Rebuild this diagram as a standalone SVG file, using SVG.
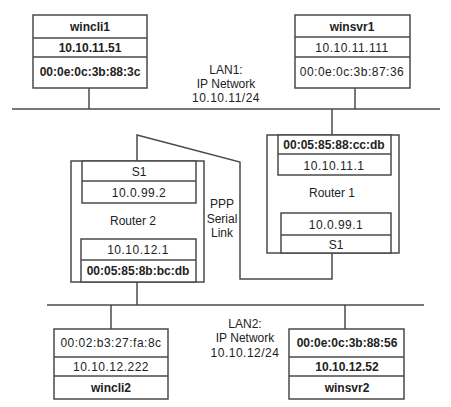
<svg xmlns="http://www.w3.org/2000/svg" width="451" height="407" viewBox="0 0 451 407">
<style>
.bx{fill:#fff;stroke:#4a4a4a;stroke-width:1.5}
.ln{fill:none;stroke:#4a4a4a;stroke-width:1.5}
text{font-family:"Liberation Sans",Arial,sans-serif;font-size:12px;fill:#222;text-anchor:middle}
.b{font-weight:bold}
.n{letter-spacing:0.5px}
</style>
<rect width="451" height="407" fill="#fff"/>
<g id="connectors">
<line class="ln" x1="12" y1="109" x2="440" y2="109"/>
<line class="ln" x1="47" y1="305" x2="424" y2="305"/>
<line class="ln" x1="89" y1="88" x2="89" y2="109"/>
<line class="ln" x1="355" y1="88" x2="355" y2="109"/>
<line class="ln" x1="332" y1="109" x2="332" y2="135"/>
<line class="ln" x1="137" y1="282" x2="137" y2="305"/>
<line class="ln" x1="111" y1="305" x2="111" y2="329"/>
<line class="ln" x1="345" y1="305" x2="345" y2="329"/>
<polyline class="ln" points="137,161 137,135 240,162 240,279 332,279 332,253"/>
</g>
<g id="lan1">
<text x="226" y="74">LAN1:</text>
<text x="226" y="88">IP Network</text>
<text class="n" x="226" y="102">10.10.11/24</text>
</g>
<g id="lan2">
<text x="245" y="328">LAN2:</text>
<text x="245" y="342">IP Network</text>
<text class="n" x="245" y="357">10.10.12/24</text>
</g>
<g id="ppp">
<text x="222" y="208">PPP</text>
<text x="222" y="223">Serial</text>
<text x="222" y="237">Link</text>
</g>
<g id="wincli1">
<rect class="bx" x="33" y="15" width="114" height="73"/>
<line class="ln" x1="33" y1="38" x2="147" y2="38"/>
<line class="ln" x1="33" y1="57" x2="147" y2="57"/>
<text class="b" x="90" y="31">wincli1</text>
<text class="b" x="90" y="52">10.10.11.51</text>
<text class="b" x="90" y="76">00:0e:0c:3b:88:3c</text>
</g>
<g id="winsvr1">
<rect class="bx" x="295" y="15" width="115" height="73"/>
<line class="ln" x1="295" y1="37" x2="410" y2="37"/>
<line class="ln" x1="295" y1="57" x2="410" y2="57"/>
<text class="b" x="352" y="31">winsvr1</text>
<text class="n" x="352" y="52">10.10.11.111</text>
<text class="n" x="352" y="76">00:0e:0c:3b:87:36</text>
</g>
<g id="router1">
<rect class="bx" x="267" y="135" width="132" height="118"/>
<rect class="bx" x="278" y="135" width="113" height="40"/>
<line class="ln" x1="278" y1="154" x2="391" y2="154"/>
<text class="b" x="334" y="149">00:05:85:88:cc:db</text>
<text class="n" x="334" y="170">10.10.11.1</text>
<text x="332" y="197">Router 1</text>
<rect class="bx" x="281" y="213" width="110" height="40"/>
<line class="ln" x1="281" y1="235" x2="391" y2="235"/>
<text class="n" x="336" y="229">10.0.99.1</text>
<text x="336" y="249">S1</text>
</g>
<g id="router2">
<rect class="bx" x="71" y="161" width="133" height="121"/>
<rect class="bx" x="82" y="161" width="114" height="42"/>
<line class="ln" x1="82" y1="181" x2="196" y2="181"/>
<text x="139" y="176">S1</text>
<text class="n" x="139" y="197">10.0.99.2</text>
<text x="133" y="225">Router 2</text>
<rect class="bx" x="81" y="239" width="115" height="43"/>
<line class="ln" x1="81" y1="260" x2="196" y2="260"/>
<text class="n" x="138" y="254">10.10.12.1</text>
<text class="b" x="138" y="275">00:05:85:8b:bc:db</text>
</g>
<g id="wincli2">
<rect class="bx" x="54" y="329" width="114" height="70"/>
<line class="ln" x1="54" y1="357" x2="168" y2="357"/>
<line class="ln" x1="54" y1="376" x2="168" y2="376"/>
<text class="n" x="111" y="347">00:02:b3:27:fa:8c</text>
<text class="n" x="111" y="371">10.10.12.222</text>
<text class="b" x="111" y="392">wincli2</text>
</g>
<g id="winsvr2">
<rect class="bx" x="289" y="329" width="115" height="70"/>
<line class="ln" x1="289" y1="357" x2="404" y2="357"/>
<line class="ln" x1="289" y1="376" x2="404" y2="376"/>
<text class="b" x="347" y="347">00:0e:0c:3b:88:56</text>
<text class="b" x="347" y="371">10.10.12.52</text>
<text class="b" x="347" y="392">winsvr2</text>
</g>
</svg>
